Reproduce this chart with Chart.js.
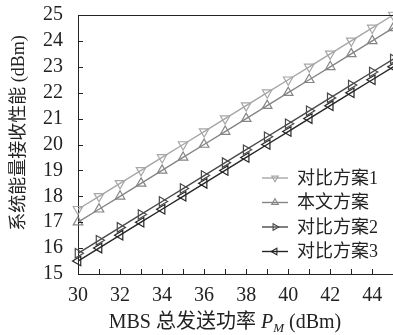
<!DOCTYPE html>
<html><head><meta charset="utf-8">
<script src="https://cdn.jsdelivr.net/npm/chart.js@4"></script>
<style>html,body{margin:0;padding:0;overflow:hidden;background:#fff;width:393px;height:335px;}canvas{display:block;}</style>
</head><body><canvas id="c" width="400" height="335" style="width:400px;height:335px"></canvas>
<script>
const xValues = [30,31,32,33,34,35,36,37,38,39,40,41,42,43,44,45];
const scheme1 = [17.5,18,18.5,19,19.5,20,20.5,21,21.5,22,22.5,23,23.5,24,24.5,25];
const proposed = [17,17.5,18,18.5,19,19.5,20,20.5,21,21.5,22,22.5,23,23.5,24,24.5];
const scheme2 = [15.8,16.3,16.8,17.3,17.8,18.3,18.8,19.3,19.8,20.3,20.8,21.3,21.8,22.3,22.8,23.3];
const scheme3 = [15.5,16,16.5,17,17.5,18,18.5,19,19.5,20,20.5,21,21.5,22,22.5,23];
const seriesNames = ['对比方案1','本文方案','对比方案2','对比方案3'];
const yTicks = [15,16,17,18,19,20,21,22,23,24,25];
const xTickLabels = [30,32,34,36,38,40,42,44];
const yTitle = '系统能量接收性能 (dBm)';

const FONT = "'Liberation Serif','Noto Sans CJK SC',serif";
const colors = ['#a6a6a6','#858585','#4a4a4a','#262626'];
const rotations = [180,0,90,270];
const allSeries = [scheme1, proposed, scheme2, scheme3];

const datasets = allSeries.map((s,i)=>({
  label: seriesNames[i],
  data: xValues.map((x,j)=>({x:x,y:s[j]})),
  borderColor: colors[i],
  backgroundColor: 'rgba(255,255,255,0)',
  borderWidth: 1.4,
  pointStyle: 'triangle',
  rotation: rotations[i],
  pointRadius: 5.5,
  pointBorderWidth: 1.2,
  pointBorderColor: colors[i],
  pointBackgroundColor: 'rgba(255,255,255,0)',
  tension: 0,
  clip: false
}));

function zeroPad(s){ s.paddingTop=0; s.paddingBottom=0; s.paddingLeft=0; s.paddingRight=0; }

const decor = {
  id:'decor',
  afterDraw(chart){
    const ctx = chart.ctx, a = chart.chartArea;
    const xs = chart.scales.x, ys = chart.scales.y;
    ctx.save();
    ctx.strokeStyle = '#222'; ctx.lineWidth = 1;
    ctx.beginPath(); ctx.moveTo(a.left, a.top+0.5); ctx.lineTo(a.right, a.top+0.5); ctx.stroke();
    ctx.beginPath();
    yTicks.forEach(v=>{const y=Math.round(ys.getPixelForValue(v))+0.5; ctx.moveTo(a.left,y); ctx.lineTo(a.left+5,y);});
    xValues.forEach(v=>{const x=Math.round(xs.getPixelForValue(v))+0.5; ctx.moveTo(x,a.bottom); ctx.lineTo(x,a.bottom-5);});
    ctx.stroke();
    const lx0=262, lx1=288, tx=297, rows=[178,202.5,227,251.5];
    datasets.forEach((d,i)=>{
      const y=rows[i];
      ctx.strokeStyle=colors[i]; ctx.lineWidth=1.4;
      ctx.beginPath(); ctx.moveTo(lx0,y); ctx.lineTo(lx1,y); ctx.stroke();
      ctx.lineWidth=1.1;
      ctx.fillStyle='rgba(255,255,255,0)';
      Chart.helpers.drawPoint(ctx,{pointStyle:'triangle',rotation:rotations[i],radius:3.8,borderWidth:1.1},(lx0+lx1)/2,y);
      ctx.font = "18px "+FONT; ctx.textBaseline='middle'; ctx.textAlign='left';
      ctx.fillStyle='#222';
      ctx.fillText(d.label, tx, y+1);
    });
    ctx.save();
    ctx.translate(19,133); ctx.rotate(-Math.PI/2);
    ctx.font = "18px "+FONT; ctx.textAlign='center'; ctx.textBaseline='middle'; ctx.fillStyle='#222';
    ctx.fillText(yTitle,0,0);
    ctx.restore();
    const parts=[
      {t:'MBS 总发送功率 ',f:"20px "+FONT,dy:0},
      {t:'P',f:"italic 20px "+FONT,dy:0},
      {t:'M',f:"italic 13px "+FONT,dy:4},
      {t:' (dBm)',f:"20px "+FONT,dy:0}
    ];
    let w=0; parts.forEach(p=>{ctx.font=p.f; p.w=ctx.measureText(p.t).width; w+=p.w;});
    let x=225-w/2; const by=328;
    ctx.textAlign='left'; ctx.textBaseline='alphabetic'; ctx.fillStyle='#222';
    parts.forEach(p=>{ctx.font=p.f; ctx.fillText(p.t,x,by+p.dy); x+=p.w;});
    ctx.restore();
  }
};

new Chart(document.getElementById('c'),{
  type:'line',
  data:{datasets},
  options:{
    responsive:false, maintainAspectRatio:false, animation:false, devicePixelRatio:1,
    layout:{padding:{left:0,right:4,top:15,bottom:0}},
    plugins:{legend:{display:false},tooltip:{enabled:false}},
    scales:{
      x:{type:'linear',min:30,max:45,
        afterFit(s){s.height=61; zeroPad(s);},
        grid:{display:false,drawTicks:false},
        border:{display:true,color:'#222',width:1},
        ticks:{stepSize:1,autoSkip:false,maxRotation:0,padding:10,color:'#222',font:{family:FONT,size:20},
          callback:(v)=>xTickLabels.includes(v)?String(v):''}
      },
      y:{type:'linear',min:15,max:25,
        afterFit(s){s.width=78; zeroPad(s);},
        grid:{display:false,drawTicks:false},
        border:{display:true,color:'#222',width:1},
        ticks:{stepSize:1,autoSkip:false,padding:15,color:'#222',font:{family:FONT,size:20}}
      }
    }
  },
  plugins:[decor]
});
</script></body></html>
